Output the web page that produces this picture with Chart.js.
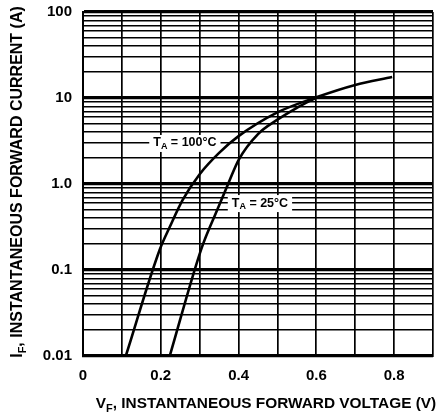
<!DOCTYPE html>
<html>
<head>
<meta charset="utf-8">
<script src="https://cdn.jsdelivr.net/npm/chart.js@4"></script>
<style>
  html, body { margin: 0; background: #fff; }
  #wrap { width: 440px; height: 417px; }
</style>
</head>
<body>
<div id="wrap"><canvas id="chart"></canvas></div>
<script>
// values
const vf100 = [0.11, 0.197, 0.223, 0.256, 0.30, 0.35, 0.40, 0.50, 0.60, 0.70, 0.795];
const if100 = [0.01, 0.171, 0.316, 0.65, 1.3, 2.3, 3.6, 6.8, 10.2, 14.2, 17.5];
const vf25 = [0.223, 0.305, 0.345, 0.375, 0.40, 0.45, 0.50, 0.55, 0.60];
const if25 = [0.01, 0.18, 0.50, 1.05, 1.9, 3.8, 5.6, 7.7, 10.1];

const xTickLabels = ['0', '0.2', '0.4', '0.6', '0.8'];
const yDecades = [0.01, 0.1, 1, 10, 100];
const yTickLabels = ['0.01', '0.1', '1.0', '10', '100'];

// curve labels: [parts, voltage, current]
const curveLabels = [
  [[['T', false], ['A', true], [' = 100°C', false]], 0.262, 3],
  [[['T', false], ['A', true], [' = 25°C', false]], 0.455, 0.6]
];

const FONT = '"Liberation Sans", Arial, sans-serif';

// log grid: 1..9 in every decade
const yGrid = [];
for (let d = 0; d < yDecades.length - 1; d++) {
  for (let m = 1; m < 10; m++) yGrid.push(yDecades[d] * m);
}
yGrid.push(yDecades[yDecades.length - 1]);

function isDecade(v) {
  const l = Math.log10(v);
  return Math.abs(l - Math.round(l)) < 1e-9;
}

// draw text with subscripts
function subText(ctx, parts, x, y, size, align) {
  const big = 'bold ' + size + 'px ' + FONT;
  const small = 'bold ' + Math.round(size * 0.7) + 'px ' + FONT;
  let w = 0;
  parts.forEach(p => { ctx.font = p[1] ? small : big; w += ctx.measureText(p[0]).width; });
  let cx = align === 'center' ? x - w / 2 : x;
  ctx.textBaseline = 'middle';
  ctx.textAlign = 'left';
  parts.forEach(p => {
    ctx.font = p[1] ? small : big;
    ctx.fillText(p[0], cx, p[1] ? y + size * 0.3 : y);
    cx += ctx.measureText(p[0]).width;
  });
  return w;
}

const textPlugin = {
  id: 'texts',
  beforeDatasetsDraw(chart) {
    const ctx = chart.ctx;
    const xs = chart.scales.x, ys = chart.scales.y;
    ctx.save();
    curveLabels.forEach(l => {
      const px = xs.getPixelForValue(l[1]);
      const py = ys.getPixelForValue(l[2]);
      const size = 12.5;
      let w = 0;
      l[0].forEach(p => {
        ctx.font = 'bold ' + (p[1] ? Math.round(size * 0.7) : size) + 'px ' + FONT;
        w += ctx.measureText(p[0]).width;
      });
      ctx.fillStyle = '#fff';
      ctx.fillRect(px - w / 2 - 4, py - 8, w + 8, 17);
      ctx.fillStyle = '#000';
      subText(ctx, l[0], px, py, size, 'center');
    });
    ctx.restore();
  },
  afterDraw(chart) {
    const ctx = chart.ctx;
    const a = chart.chartArea;
    ctx.save();
    ctx.fillStyle = '#000';
    subText(ctx, [['V', false], ['F', true], [', INSTANTANEOUS FORWARD VOLTAGE (V)', false]],
      (a.left + a.right) / 2 + 8, 404, 15.4, 'center');
    ctx.translate(18, (a.top + a.bottom) / 2 - 2);
    ctx.rotate(-Math.PI / 2);
    subText(ctx, [['I', false], ['F', true], [', INSTANTANEOUS FORWARD CURRENT (A)', false]],
      0, 0, 16, 'center');
    ctx.restore();
  }
};

const ctx = document.getElementById('chart').getContext('2d');
new Chart(ctx, {
  type: 'line',
  data: {
    datasets: [
      {
        label: 'TA = 100°C',
        data: vf100.map((v, i) => ({ x: v, y: if100[i] })),
        borderColor: '#000',
        borderWidth: 2.6,
        pointRadius: 0,
        cubicInterpolationMode: 'monotone'
      },
      {
        label: 'TA = 25°C',
        data: vf25.map((v, i) => ({ x: v, y: if25[i] })),
        borderColor: '#000',
        borderWidth: 2.6,
        pointRadius: 0,
        cubicInterpolationMode: 'monotone'
      }
    ]
  },
  options: {
    responsive: true,
    maintainAspectRatio: false,
    animation: false,
    layout: { padding: { top: 12, right: 7, left: 0, bottom: 0 } },
    plugins: { legend: { display: false }, tooltip: { enabled: false } },
    scales: {
      x: {
        type: 'linear',
        min: 0,
        max: 0.9,
        afterFit: s => { s.height = 61; s.paddingLeft = 0; s.paddingRight = 0; },
        grid: { color: '#000', lineWidth: 1.7, drawTicks: false },
        border: { color: '#000', width: 2 },
        ticks: {
          stepSize: 0.1,
          padding: 11,
          color: '#000',
          font: { family: FONT, size: 15, weight: 'bold' },
          autoSkip: false,
          maxRotation: 0,
          callback: v => {
            const k = Math.round(v * 10);
            return k % 2 === 0 && k / 2 < xTickLabels.length ? xTickLabels[k / 2] : '';
          }
        }
      },
      y: {
        type: 'logarithmic',
        min: 0.01,
        max: 100,
        afterFit: s => { s.width = 83; s.paddingTop = 0; s.paddingBottom = 0; },
        afterBuildTicks: s => { s.ticks = yGrid.map(v => ({ value: v })); },
        grid: {
          color: '#000',
          drawTicks: false,
          lineWidth: c => (c.tick && isDecade(c.tick.value)) ? 3.2 : 1.5
        },
        border: { color: '#000', width: 2 },
        ticks: {
          padding: 11,
          color: '#000',
          font: { family: FONT, size: 15, weight: 'bold' },
          autoSkip: false,
          callback: v => {
            if (!isDecade(v)) return '';
            const i = yDecades.findIndex(d => Math.abs(Math.log10(d) - Math.log10(v)) < 1e-9);
            return i >= 0 ? yTickLabels[i] : '';
          }
        }
      }
    }
  },
  plugins: [textPlugin]
});
</script>
</body>
</html>
